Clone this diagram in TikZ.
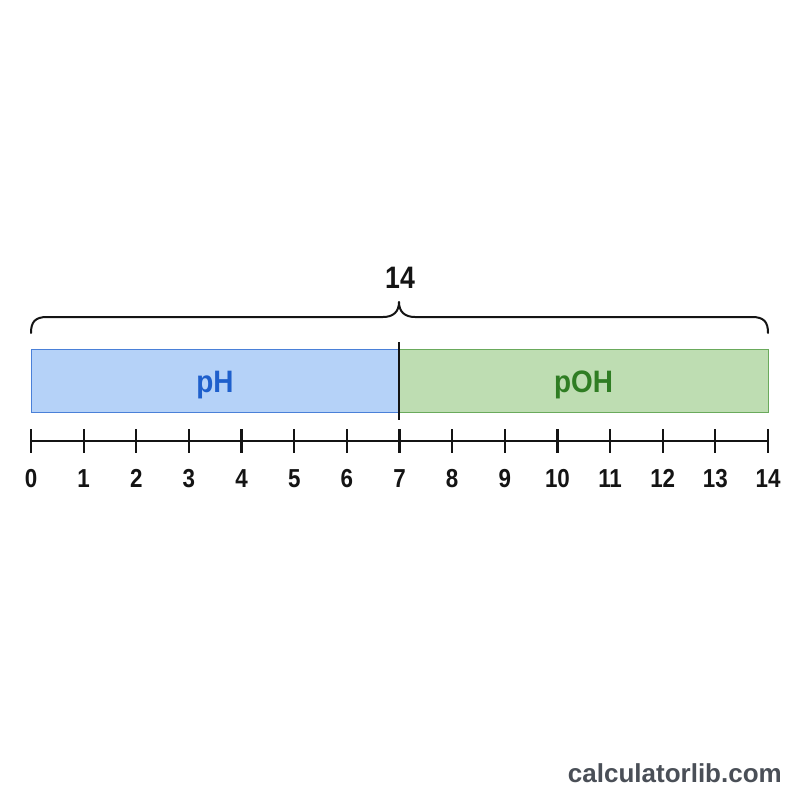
\documentclass[tikz,border=0pt]{standalone}
\usepackage{fontspec}
\setmainfont{Liberation Sans}
\definecolor{phfill}{HTML}{B5D2F8}
\definecolor{phdraw}{HTML}{4A80D8}
\definecolor{phtext}{HTML}{1E5FCC}
\definecolor{pohfill}{HTML}{BEDDB2}
\definecolor{pohdraw}{HTML}{6AAA5C}
\definecolor{pohtext}{HTML}{2F7D23}
\definecolor{wm}{HTML}{4A4F57}
\definecolor{ink}{HTML}{141414}
\begin{document}
\begin{tikzpicture}[x=1pt,y=-1pt,
  bar/.style={minimum height=63pt,inner sep=0pt,line width=1pt},
  ticklbl/.style={font=\fontsize{26}{30}\selectfont\bfseries,text=ink,xscale=0.86,inner sep=0pt,anchor=base},
  tickln/.style={line width=2.2pt,ink},
  barlbl/.style={font=\fontsize{31}{34}\selectfont\bfseries,xscale=0.9,anchor=base}]
\useasboundingbox[fill=white] (0,0) rectangle (800,800);
% bars
\node[bar,draw=phdraw,fill=phfill,minimum width=368pt] (ph) at (215,380.5) {};
\node[bar,draw=pohdraw,fill=pohfill,minimum width=369pt] (poh) at (583.5,380.5) {};
\node[barlbl,text=phtext] (phl) at (215,392) {pH};
\node[barlbl,text=pohtext] (pohl) at (583.5,392) {pOH};
\coordinate (dtop) at (399,342);
\coordinate (dbot) at (399,420);
\draw[line width=2.2pt,ink] (dtop) -- (dbot);
% axis
\coordinate (a0) at (31,441);
\coordinate (a14) at (768,441);
\draw[tickln] (a0) -- (a14);
\foreach \i in {0,...,14}{
  \pgfmathsetmacro{\xx}{31+\i*52.643}
  \coordinate (t\i) at (\xx,441);
  \draw[tickln] (\xx,429) -- (\xx,453);
  \node[ticklbl] (l\i) at (\xx,487) {\i};
}
% brace
\coordinate (bl) at (31,333);
\coordinate (br) at (768,333);
\coordinate (bm) at (399,302);
\draw[line width=2pt,ink,line cap=round,line join=round] (bl) .. controls (31,322) and (35,317) .. (47,317) -- (383,317) .. controls (393,317) and (399,312) .. (bm) .. controls (399,312) and (405,317) .. (415,317) -- (752,317) .. controls (764,317) and (768,322) .. (br);
\node[font=\fontsize{31}{34}\selectfont\bfseries,text=ink,xscale=0.86,anchor=base,inner sep=0pt] (top) at (400,288) {14};
% watermark
\node[font=\fontsize{26}{28}\selectfont\bfseries,text=wm,anchor=base east,inner sep=0pt] (wmk) at (782,782) {calculatorlib.com};
\end{tikzpicture}
\end{document}
